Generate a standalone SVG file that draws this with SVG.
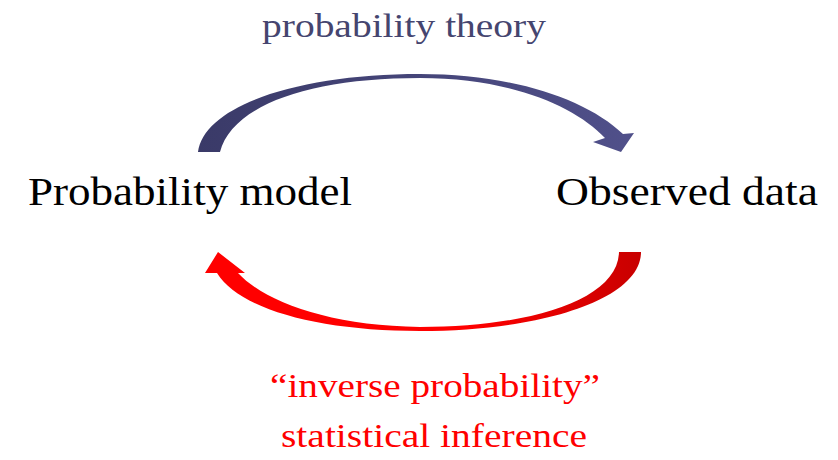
<svg xmlns="http://www.w3.org/2000/svg" width="838" height="460" viewBox="0 0 838 460">
<defs>
<style>
.t{font-family:"Liberation Serif","DejaVu Serif",serif;}
.node{font-size:40px;fill:#000;}
.blue{font-size:34px;fill:#45456f;}
.red{font-size:34px;fill:#ff0000;}
</style>
<linearGradient id="gb" x1="0" y1="0" x2="1" y2="0">
<stop offset="0" stop-color="#3a3a68"/>
<stop offset="1" stop-color="#50508a"/>
</linearGradient>
<linearGradient id="gr" x1="0" y1="0" x2="1" y2="0">
<stop offset="0" stop-color="#ff0000"/>
<stop offset="0.6" stop-color="#ff0000"/>
<stop offset="1" stop-color="#c80000"/>
</linearGradient>
</defs>
<rect width="838" height="460" fill="#fff"/>
<g id="connectors">
<path id="theory-arrow" fill="url(#gb)" d="M198,152 C204,105 300,74 420,74 C510,74 585,98 623,134 L634,133 L621,152 L593,142 L605,138 C575,106 510,78 420,78 C310,78 232,105 220,152 Z"/>
<path id="inference-arrow" fill="url(#gr)" d="M641,252 C641,300 540,331 420,331 C320,331 240,310 217,273 L205,273 L218,252 L245,273 L238,273 C265,302 330,326 420,327 C530,327 618,300 619,252 Z"/>
</g>
<g id="label-theory"><text class="t blue" x="404" y="37" text-anchor="middle" textLength="284" lengthAdjust="spacingAndGlyphs">probability theory</text></g>
<g id="node-model"><text class="t node" x="28" y="205" textLength="324" lengthAdjust="spacingAndGlyphs">Probability model</text></g>
<g id="node-data"><text class="t node" x="556" y="205" textLength="262" lengthAdjust="spacingAndGlyphs">Observed data</text></g>
<g id="label-inference">
<text class="t red" x="435" y="397" text-anchor="middle" textLength="330" lengthAdjust="spacingAndGlyphs">“inverse probability”</text>
<text class="t red" x="434" y="447" text-anchor="middle" textLength="306" lengthAdjust="spacingAndGlyphs">statistical inference</text>
</g>
</svg>
